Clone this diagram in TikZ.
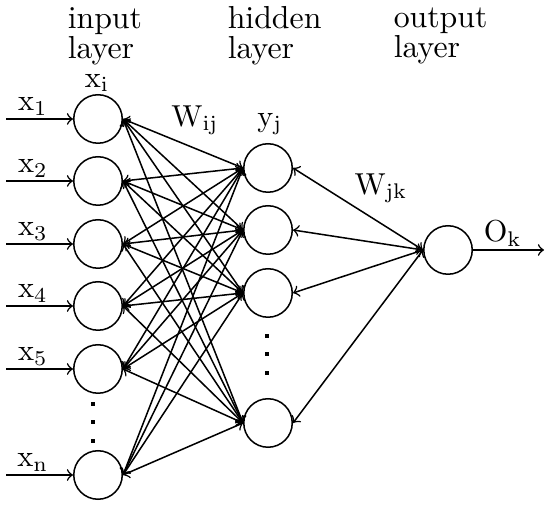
\documentclass[tikz,border=0pt]{standalone}
\begin{document}
\begin{tikzpicture}[x=0.33pt, y=-0.33pt, line width=0.5pt,
    neuron/.style={draw, circle, minimum size=16pt, inner sep=0pt},
    dotmark/.style={fill, inner sep=0pt, minimum size=1.4pt},
    title/.style={align=left, anchor=west, inner sep=0pt, font=\fontsize{10.5}{10}\selectfont}]
    \useasboundingbox (0,0) rectangle (550,508);

    % Layer titles
    \node[title] (tin) at (67,36) {input\\layer};
    \node[title] (thid) at (227,36) {hidden\\layer};
    \node[title] (tout) at (393,36) {output\\layer};

    % Input layer
    \foreach \i/\y/\t in {1/119/1, 2/181/2, 3/244/3, 4/306/4, 5/369/5, 6/475/n} {
        \node[neuron] (in\i) at (98,\y) {};
        \coordinate (src\i) at (6,\y);
        \draw[->] (src\i) -- node[above, pos=0.4, inner sep=1pt] {$\mathrm{x}_{\mathrm{\t}}$} (in\i);
    }
    \foreach \y in {404,422,441} \node[dotmark] (dotin\y) at (93,\y) {};

    % Hidden layer
    \foreach \j/\y in {1/168, 2/230, 3/293, 4/423}
        \node[neuron] (hid\j) at (268,\y) {};
    \foreach \y in {336,354,373} \node[dotmark] (dothid\y) at (267,\y) {};

    % Output layer
    \node[neuron] (out) at (448,250) {};
    \coordinate (sink) at (544,250);
    \draw[->] (out) -- node[above, pos=0.42, inner sep=1pt] {$\mathrm{O}_{\mathrm{k}}$} (sink);

    % Weights
    \foreach \i in {1,...,6}
        \foreach \j in {1,...,4}
            \draw[<->] (in\i.east) -- (hid\j.west);
    \foreach \j in {1,...,4}
        \draw[<->] (hid\j.east) -- (out.west);

    % Labels
    \node (xi) at (97,83) {$\mathrm{x}_{\mathrm{i}}$};
    \node (yj) at (270,124) {$\mathrm{y}_{\mathrm{j}}$};
    \node (wij) at (195,120) {$\mathrm{W}_{\mathrm{ij}}$};
    \node (wjk) at (381,188) {$\mathrm{W}_{\mathrm{jk}}$};
\end{tikzpicture}
\end{document}
